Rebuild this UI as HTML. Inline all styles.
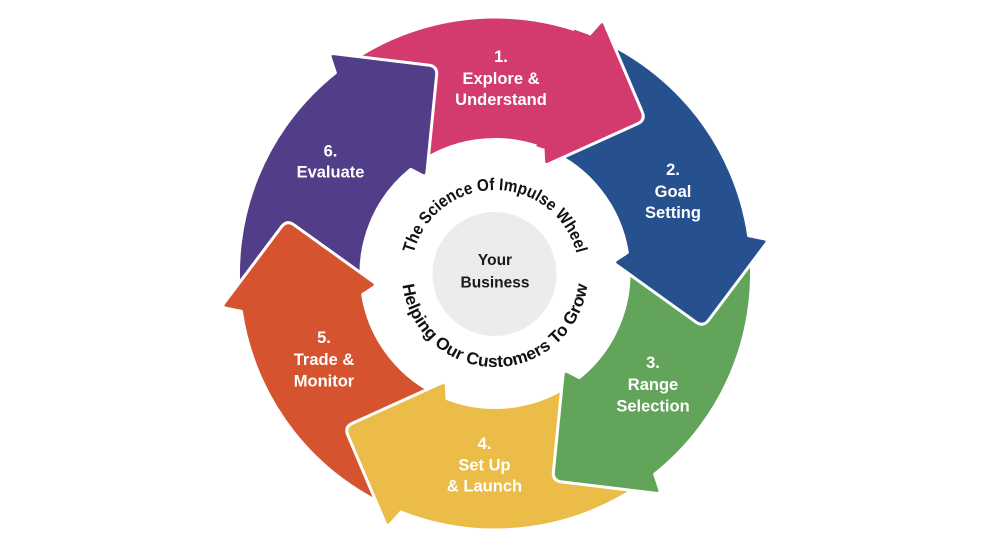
<!DOCTYPE html>
<html>
<head>
<meta charset="utf-8">
<style>
  html, body { margin: 0; padding: 0; background: #ffffff; }
  body { width: 990px; height: 546px; overflow: hidden; }
  svg { display: block; }
  .lbl { font-family: "Liberation Sans", sans-serif; font-weight: bold; font-size: 16.5px; fill: #ffffff; text-anchor: middle; }
  .ctr { font-family: "Liberation Sans", sans-serif; font-weight: bold; font-size: 15.5px; fill: #1a1a1a; text-anchor: middle; }
  .arc { font-family: "Liberation Sans", sans-serif; font-weight: bold; font-size: 17px; fill: #111111; }
</style>
</head>
<body>
<svg width="990" height="546" viewBox="0 0 990 546" xmlns="http://www.w3.org/2000/svg" xmlns:xlink="http://www.w3.org/1999/xlink">
  <defs>
    <path id="seg" d="M -156.2,-203.5 A 256.5 256.5 0 0 1 94.0,-238.6 L 104.5,-250.4 Q 107.8,-254.1 109.8,-249.5 L 147.2,-161.7 Q 150.7,-153.4 142.5,-149.7 L 53.5,-109.5 Q 48.9,-107.4 48.65,-112.4 L 48.0,-125.1 A 134 134 0 0 0 -81.6,-106.3 Z"/>
    <path id="topArc" d="M 411,274 A 84 84 0 0 1 579,274"/>
    <path id="botArc" d="M 402,274 A 93 93 0 0 0 588,274"/>
  </defs>

  <rect width="990" height="546" fill="#ffffff"/>

  <g transform="translate(495,273.5)" stroke="#ffffff" stroke-width="3" stroke-linejoin="round">
    <use href="#seg" xlink:href="#seg" fill="#d33a6e"/>
    <use href="#seg" xlink:href="#seg" fill="#523e88" transform="rotate(300)"/>
    <use href="#seg" xlink:href="#seg" fill="#d5542f" transform="rotate(240)"/>
    <use href="#seg" xlink:href="#seg" fill="#ebbd48" transform="rotate(180)"/>
    <use href="#seg" xlink:href="#seg" fill="#62a459" transform="rotate(120)"/>
    <use href="#seg" xlink:href="#seg" fill="#27508f" transform="rotate(60)"/>
    <!-- pink head redrawn on top of blue tail -->
    <path d="M 79.3,-243.9 L 94.0,-238.6 L 104.5,-250.4 Q 107.8,-254.1 109.8,-249.5 L 147.2,-161.7 Q 150.7,-153.4 142.5,-149.7 L 53.5,-109.5 Q 48.9,-107.4 48.65,-112.4 L 48.0,-125.1 L 41.4,-127.4 Z" fill="#d33a6e" stroke="none"/>
    <path d="M 94.0,-238.6 L 104.5,-250.4 Q 107.8,-254.1 109.8,-249.5 L 147.2,-161.7 Q 150.7,-153.4 142.5,-149.7 L 53.5,-109.5 Q 48.9,-107.4 48.65,-112.4 L 48.0,-125.1" fill="none"/>
  </g>

  <!-- center circle -->
  <circle cx="494.5" cy="274" r="62" fill="#ececec"/>
  <text class="ctr" x="495" y="265">Your</text>
  <text class="ctr" x="495" y="287.5">Business</text>

  <!-- curved texts -->
  <text class="arc" text-anchor="middle">
    <textPath href="#topArc" xlink:href="#topArc" startOffset="50%" textLength="222" lengthAdjust="spacingAndGlyphs">The Science Of Impulse Wheel</textPath>
  </text>
  <text class="arc" text-anchor="middle">
    <textPath href="#botArc" xlink:href="#botArc" startOffset="50%" textLength="270" lengthAdjust="spacingAndGlyphs">Helping Our Customers To Grow</textPath>
  </text>

  <!-- labels -->
  <text class="lbl" x="501" y="62">1.</text>
  <text class="lbl" x="501" y="84">Explore &amp;</text>
  <text class="lbl" x="501" y="105">Understand</text>

  <text class="lbl" x="673" y="175">2.</text>
  <text class="lbl" x="673" y="197">Goal</text>
  <text class="lbl" x="673" y="218">Setting</text>

  <text class="lbl" x="653" y="368">3.</text>
  <text class="lbl" x="653" y="390">Range</text>
  <text class="lbl" x="653" y="411.5">Selection</text>

  <text class="lbl" x="484.5" y="449">4.</text>
  <text class="lbl" x="484.5" y="470.5">Set Up</text>
  <text class="lbl" x="484.5" y="491.5">&amp; Launch</text>

  <text class="lbl" x="324" y="343">5.</text>
  <text class="lbl" x="324" y="365">Trade &amp;</text>
  <text class="lbl" x="324" y="386.5">Monitor</text>

  <text class="lbl" x="330.5" y="156.5">6.</text>
  <text class="lbl" x="330.5" y="177.5">Evaluate</text>
</svg>
</body>
</html>
